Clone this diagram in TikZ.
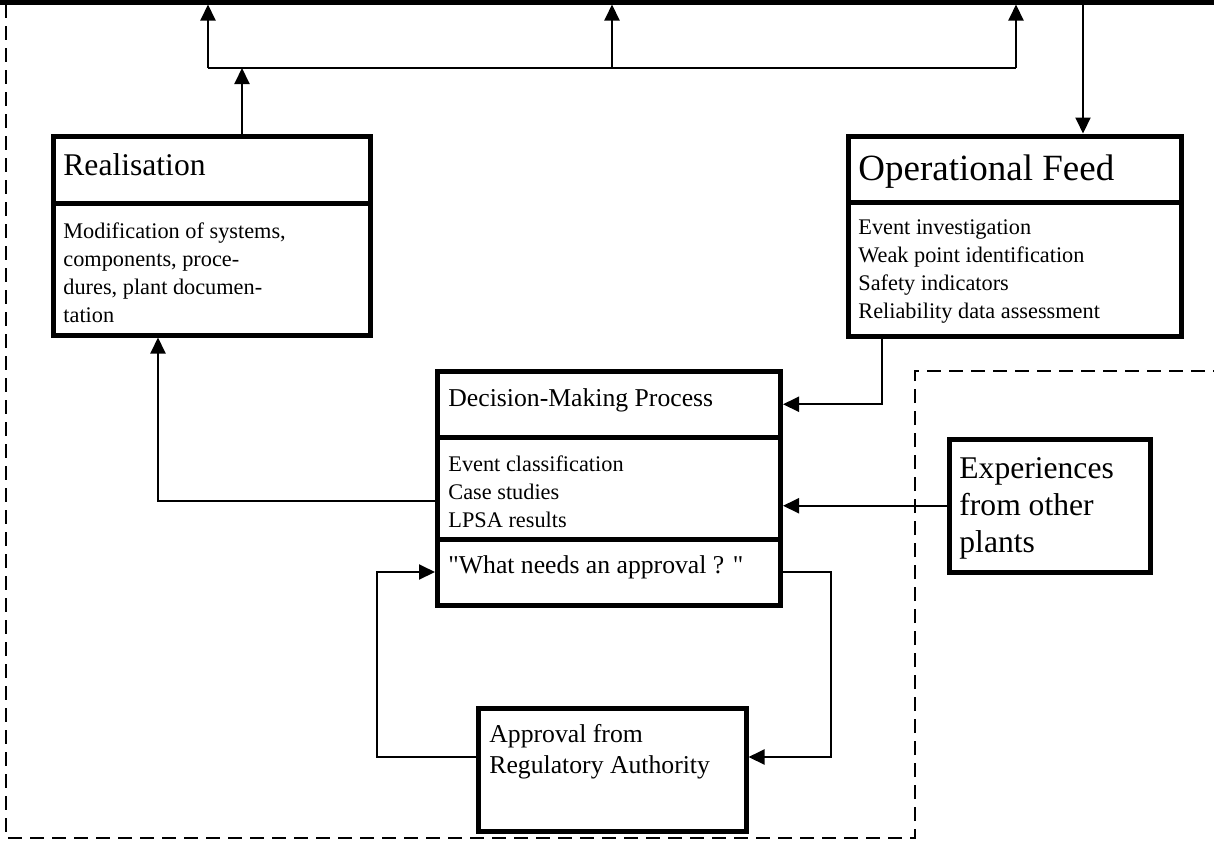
\documentclass[tikz,border=0pt]{standalone}
\usepackage{fontspec}
\setmainfont{Liberation Serif}[Ligatures=TeXOff]
\usetikzlibrary{positioning,arrows.meta}
\newcommand\bigsz{\fontsize{18.5pt}{22pt}\selectfont}
\newcommand\midsz{\fontsize{15.8pt}{18.5pt}\selectfont}
\newcommand\hdsz{\fontsize{12.85pt}{15.5pt}\selectfont}
\newcommand\smsz{\fontsize{11.15pt}{14pt}\selectfont}
\newcommand\rows[1]{\begin{tabular}[t]{@{}l@{}}#1\end{tabular}}
\tikzset{
  frame/.style 2 args={draw,line width=2.5pt,anchor=north west,inner sep=0pt,outer sep=0pt,minimum width=#1,minimum height=#2},
  txt/.style={anchor=base west,inner sep=0pt},
  wire/.style={line width=1pt},
  arr/.style={wire,-{Triangle[length=8pt,width=7.5pt]}},
  into/.style={arr,shorten >=1.25pt},
  bound/.style={line width=.6pt,dash pattern=on 7pt off 4pt}
}
\begin{document}
\begin{tikzpicture}[x=.5pt,y=-.5pt]
\useasboundingbox (0,0) rectangle (1214,841);
\draw[bound] (6,4) -- (6,838) -- (915,838) -- (915,371) -- (1214,371);
\draw[line width=2.25pt] (0,2.25) -- (1214,2.25);

\node[frame={158.5pt}{33.5pt}] (realhead) at (53,136) {};
\node[frame={158.5pt}{66pt},below=0pt of realhead] (realbody) {};
\node[frame={166.5pt}{33pt}] (feedhead) at (848,136) {};
\node[frame={166.5pt}{67pt},below=0pt of feedhead] (feedbody) {};
\node[frame={171.5pt}{33.25pt}] (dechead) at (437.5,371) {};
\node[frame={171.5pt}{50.75pt},below=0pt of dechead] (decbody) {};
\node[frame={171.5pt}{33pt},below=0pt of decbody] (decask) {};
\node[frame={134pt}{61.5pt}] (approval) at (478,708) {};
\node[frame={100.5pt}{66.25pt}] (others) at (949,439.5) {};

\node[txt,font=\midsz] (realtitle) at (63,175) {Realisation};
\node[txt,font=\smsz] (realitems) at (63,238) {\rows{Modification of systems,\\components, proce-\\dures, plant documen-\\tation}};
\node[txt,font=\bigsz] (feedtitle) at (858,180) {Operational Feed};
\node[txt,font=\smsz] (feeditems) at (858,234) {\rows{Event investigation\\Weak point identification\\Safety indicators\\Reliability data assessment}};
\node[txt,font=\hdsz] (dectitle) at (448,406) {Decision-Making Process};
\node[txt,font=\smsz] (decitems) at (448,471) {\rows{Event classification\\Case studies\\LPSA results}};
\node[txt,font=\hdsz] (asktext) at (448,573) {"What needs an approval ? "};
\node[txt,font=\hdsz] (apprtext) at (489,742) {\rows{Approval from\\Regulatory Authority}};
\node[txt,font=\midsz] (othertext) at (959,478) {\rows{Experiences\\from other\\plants}};

\coordinate (roof) at (0,4.5);
\coordinate (tap) at (242,68);
\coordinate (busl) at (208,68);
\coordinate (busm) at (612,68);
\coordinate (busr) at (1016,68);
\coordinate (feedin) at (1083,4.5);
\draw[wire] (busl) -- (busr);
\foreach \b in {busl,busm,busr}{\draw[arr] (\b) -- (\b |- roof);}
\draw[arr] (realhead.north -| tap) -- (tap);
\draw[into] (feedin) -- (feedin |- feedhead.north);
\draw[into] ([xshift=17pt]feedbody.south west) |- (dechead.east);
\draw[into] (others.west) -- (others.west -| decbody.east);
\draw[into] ([yshift=-6.5pt]decbody.west) -| ([xshift=-26.75pt]realbody.south);
\draw[into] ([yshift=6.25pt]approval.west) -- ++(-101,0) |- (decask.west);
\draw[into] (decask.east) -- ++(50.5,0) |- ([yshift=6.25pt]approval.east);
\end{tikzpicture}
\end{document}
